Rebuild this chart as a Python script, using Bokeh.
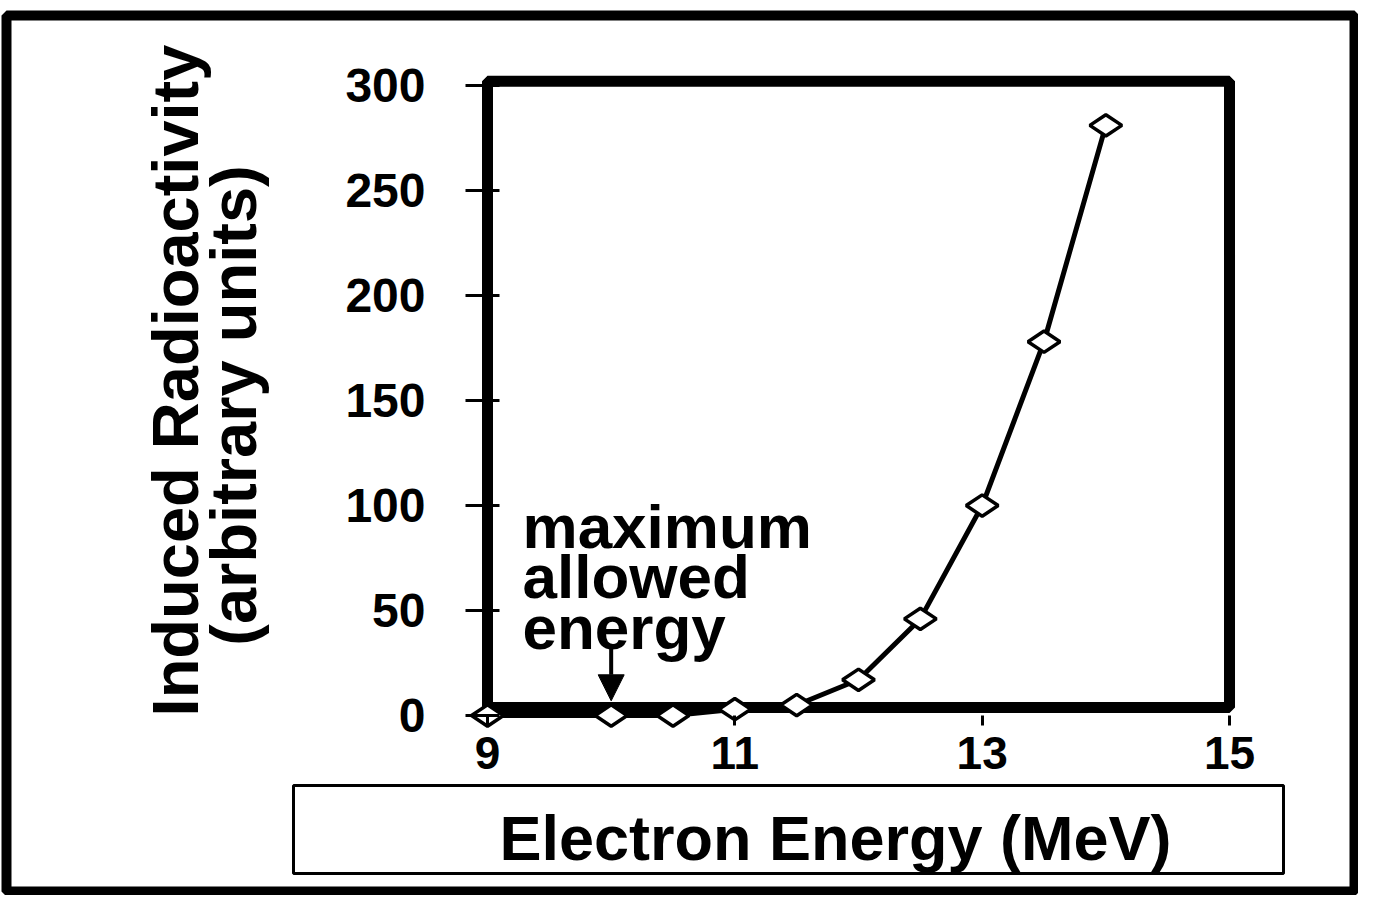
import math
from bokeh.plotting import figure
from bokeh.models import (LinearAxis, FixedTicker, Range1d, BoxAnnotation, Label,
                          Arrow, NormalHead)
from bokeh.embed import file_html
from bokeh.resources import INLINE

# ---- data ----
energy_mev = [9, 10, 10.5, 11, 11.5, 12, 12.5, 13, 13.5, 14]
radioactivity = [0, 0, 0, 3, 5, 17, 46, 100, 178, 281]
x_ticks = [9, 11, 13, 15]
y_ticks = [0, 50, 100, 150, 200, 250, 300]
max_allowed_energy = 10

FONT = "Liberation Sans"
W, H = 1358, 895

p = figure(width=W, height=H, output_backend="svg", toolbar_location=None,
           x_range=Range1d(5.062, 16.043), y_range=Range1d(-85.71, 340.48),
           x_axis_location=None, y_axis_location=None, min_border=0,
           outline_line_color=None, background_fill_color="white",
           border_fill_color="white")
p.grid.visible = False

# plot frame (thick box)
p.add_layout(BoxAnnotation(left=9, right=15, bottom=3.8, top=302,
                           fill_color=None, line_color="black", line_alpha=1.0,
                           line_width=11, level="underlay"))

# outer slide border
p.add_layout(BoxAnnotation(left=6, right=1354, bottom=4, top=880,
                           left_units="screen", right_units="screen",
                           top_units="screen", bottom_units="screen",
                           fill_color=None, line_color="black", line_alpha=1.0,
                           line_width=10))

# axis title box
p.add_layout(BoxAnnotation(left=293, right=1283, bottom=22, top=110,
                           left_units="screen", right_units="screen",
                           top_units="screen", bottom_units="screen",
                           fill_color=None, line_color="black", line_alpha=1.0,
                           line_width=3))

# data
p.line(energy_mev, radioactivity, line_color="black", line_width=5)
p.scatter(energy_mev, radioactivity, marker="diamond", size=32, angle=math.pi / 2,
          fill_color="white", line_color="black", line_width=3.5)

# axes
yaxis = LinearAxis(fixed_location=9, ticker=FixedTicker(ticks=y_ticks))
yaxis.axis_line_color = None
yaxis.major_tick_out = 22
yaxis.major_tick_in = 12
yaxis.major_tick_line_width = 3
yaxis.minor_tick_line_color = None
yaxis.major_label_standoff = 40
yaxis.major_label_text_font = FONT
yaxis.major_label_text_font_style = "bold"
yaxis.major_label_text_font_size = "48px"
yaxis.major_label_text_color = "black"
p.add_layout(yaxis, "left")

xaxis = LinearAxis(fixed_location=0, ticker=FixedTicker(ticks=x_ticks))
xaxis.axis_line_color = None
xaxis.major_tick_out = 10
xaxis.major_tick_in = 0
xaxis.major_tick_line_width = 3
xaxis.minor_tick_line_color = None
xaxis.major_label_standoff = 11
xaxis.major_label_text_font = FONT
xaxis.major_label_text_font_style = "bold"
xaxis.major_label_text_font_size = "46px"
xaxis.major_label_text_color = "black"
p.add_layout(xaxis, "below")

# axis titles
for txt, sx, sy in [("Induced Radioactivity", 175, 515),
                    ("(arbitrary units)", 233, 490)]:
    p.add_layout(Label(x=sx, y=sy, x_units="screen", y_units="screen", text=txt,
                       angle=math.pi / 2, text_align="center",
                       text_baseline="alphabetic", text_font=FONT,
                       text_font_style="bold", text_font_size="65px",
                       text_color="black"))

p.add_layout(Label(x=835, y=58, x_units="screen", y_units="screen",
                   text="Electron Energy (MeV)", text_align="center",
                   text_baseline="alphabetic", text_font=FONT,
                   text_font_style="bold", text_font_size="63px",
                   text_color="black"))

# annotation
for txt, sy in [("maximum", 369), ("allowed", 319), ("energy", 268)]:
    p.add_layout(Label(x=522, y=sy, x_units="screen", y_units="screen", text=txt,
                       text_align="left", text_baseline="alphabetic",
                       text_font=FONT, text_font_style="bold",
                       text_font_size="62px", text_color="black"))

p.add_layout(Arrow(end=NormalHead(size=26, fill_color="black", line_color="black"),
                   x_start=max_allowed_energy, y_start=32,
                   x_end=max_allowed_energy, y_end=7,
                   line_color="black", line_width=4))

open("out.html", "w").write(file_html(p, INLINE))
